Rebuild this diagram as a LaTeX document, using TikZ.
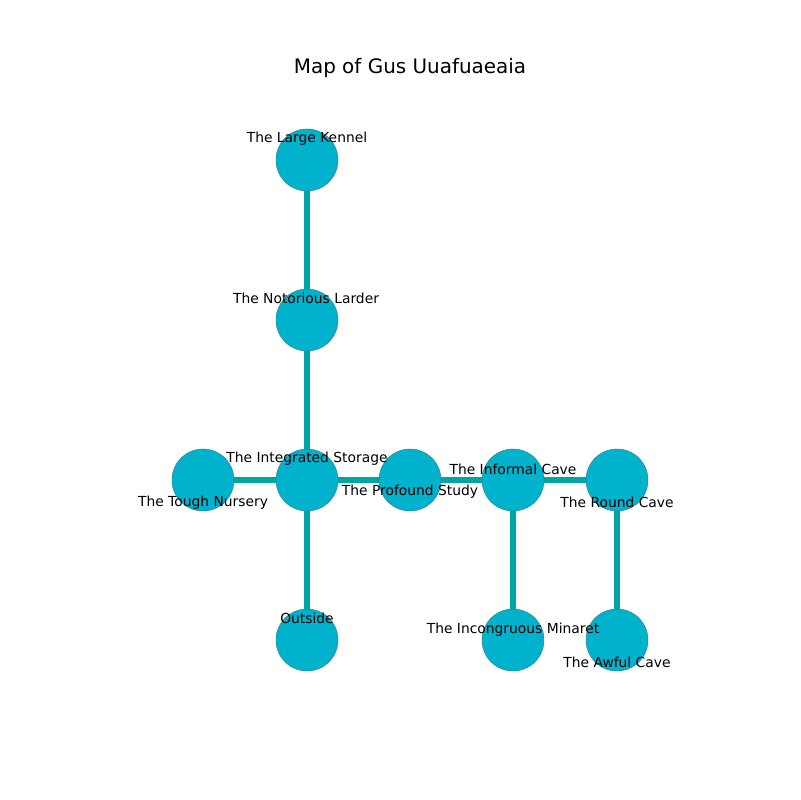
\documentclass[tikz,border=0pt]{standalone}
\usepackage{fontspec}
\setmainfont{DejaVu Sans}
\usetikzlibrary{backgrounds}
\definecolor{roomfill}{RGB}{0,178,204}
\definecolor{roomedge}{RGB}{40,120,130}
\definecolor{pathcol}{RGB}{0,166,166}
\tikzset{
    room/.style={draw=roomedge, line width=0.3pt, fill=roomfill, circle, minimum size=62\unit, inner sep=0pt},
    tag/.style={inner sep=0pt, font=\fontsize{10pt}{12pt}\selectfont},
    path/.style={draw=pathcol, line width=4pt}
}
\newlength{\unit}
\setlength{\unit}{0.01in}
\begin{document}
\begin{tikzpicture}[x=0.01in, y=-0.01in]
        \useasboundingbox (0, 0) rectangle (800, 800);
        \node[inner sep=0pt, font=\fontsize{14.4pt}{16pt}\selectfont] (title) at (410, 68) {Map of Gus Uuafuaeaia};

        \node[room] (kennel) at (307, 160) {};
        \node[room] (larder) at (307, 320) {};
        \node[room] (storage) at (307, 480) {};
        \node[room] (nursery) at (203, 480) {};
        \node[room] (study) at (410, 480) {};
        \node[room] (informal) at (513, 480) {};
        \node[room] (round) at (617, 480) {};
        \node[room] (outside) at (307, 640) {};
        \node[room] (minaret) at (513, 640) {};
        \node[room] (awful) at (617, 640) {};

        \begin{scope}[on background layer]
            \draw[path] (kennel) -- (larder);
            \draw[path] (larder) -- (storage);
            \draw[path] (storage) -- (nursery);
            \draw[path] (storage) -- (study);
            \draw[path] (study) -- (informal);
            \draw[path] (informal) -- (round);
            \draw[path] (storage) -- (outside);
            \draw[path] (informal) -- (minaret);
            \draw[path] (round) -- (awful);
        \end{scope}

        \node[tag] (kennel-t) at (307, 138.5) {The Large Kennel};
        \node[tag] (larder-t) at (306, 298.5) {The Notorious Larder};
        \node[tag] (storage-t) at (307, 458.5) {The Integrated Storage};
        \node[tag] (nursery-t) at (203, 502.5) {The Tough Nursery};
        \node[tag] (study-t) at (410, 491.5) {The Profound Study};
        \node[tag] (informal-t) at (513, 469.5) {The Informal Cave};
        \node[tag] (round-t) at (617, 502.5) {The Round Cave};
        \node[tag] (outside-t) at (307, 618.5) {Outside};
        \node[tag] (minaret-t) at (513, 629.5) {The Incongruous Minaret};
        \node[tag] (awful-t) at (617, 662.5) {The Awful Cave};
    \end{tikzpicture}
\end{document}
